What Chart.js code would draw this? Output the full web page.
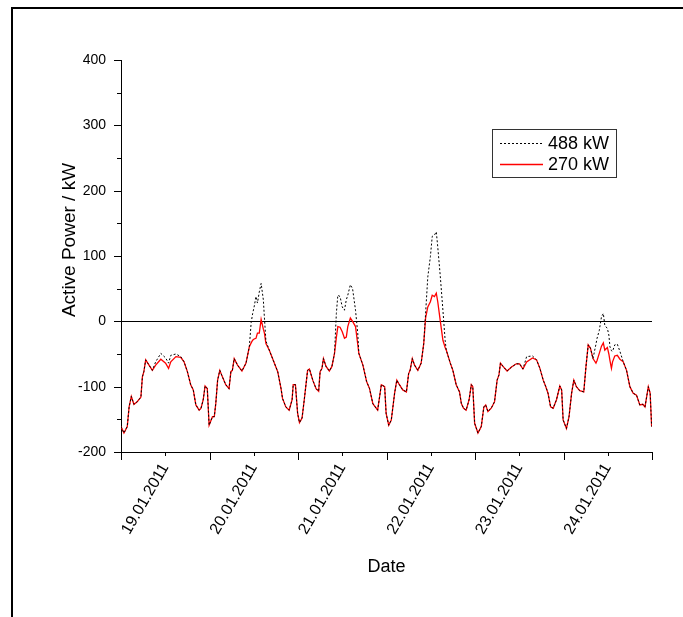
<!DOCTYPE html>
<html>
<head>
<meta charset="utf-8">
<script src="https://cdn.jsdelivr.net/npm/chart.js@4/dist/chart.umd.min.js"></script>
<style>
  html, body { margin: 0; padding: 0; background: #fff; }
  #wrap { position: relative; width: 683px; height: 617px; overflow: hidden; }
  #frame { position: absolute; left: 11px; top: 7px; width: 800px; height: 800px;
           border-top: 2px solid #000; border-left: 2px solid #000; }
  canvas { position: absolute; left: 0; top: 0; }
</style>
</head>
<body>
<div id="wrap">
  <div id="frame"></div>
  <canvas id="chart1" width="683" height="617"></canvas>
</div>
<script>
// time in hours from the left edge of the axis, 24 h per day
const hours = [
  0.0, 0.8, 1.7, 2.2, 2.8, 3.5, 4.4, 5.4, 5.8, 6.2, 6.7, 7.6, 8.5, 9.4, 10.8, 12.1, 12.9, 13.5, 14.9, 16.2,
  17.1, 18.0, 18.9, 19.6, 20.3, 21.2, 21.7, 22.3, 22.8, 23.4, 23.9, 24.8, 25.3, 25.7, 26.2, 26.8, 27.5, 28.4, 29.3, 29.8,
  30.2, 30.7, 31.6, 32.8, 33.9, 34.8, 35.3, 35.7, 36.1, 36.6, 37.0, 37.5, 38.0, 38.6, 38.9, 39.3, 40.2, 41.1, 42.5, 43.4,
  43.8, 44.7, 45.6, 46.4, 46.7, 47.3, 47.9, 48.4, 49.1, 49.7, 50.6, 51.1, 52.0, 52.9, 53.6, 54.0, 54.5, 54.9, 55.6, 56.5,
  57.2, 57.9, 58.4, 58.8, 59.4, 60.0, 60.6, 61.1, 61.5, 62.2, 62.8, 63.6, 64.2, 64.5, 65.6, 66.6, 67.4, 68.3, 69.2, 69.6,
  70.6, 71.5, 71.9, 72.6, 73.3, 74.2, 74.8, 75.5, 76.4, 77.4, 78.0, 78.4, 79.0, 79.6, 80.5, 81.4, 82.1, 82.6, 83.2, 83.9,
  84.4, 85.0, 85.5, 85.9, 86.6, 87.3, 87.9, 88.2, 89.3, 90.0, 90.9, 91.8, 92.3, 92.9, 93.6, 94.4, 95.0, 95.4, 95.9, 96.8,
  97.7, 98.4, 98.9, 99.5, 100.4, 101.3, 102.0, 102.5, 102.9, 103.6, 104.7, 105.9, 107.2, 108.1, 109.0, 110.0, 111.6, 112.7, 113.6, 114.5,
  115.2, 115.8, 116.5, 117.2, 118.1, 119.0, 119.5, 119.9, 120.8, 121.5, 122.2, 122.8, 123.5, 124.4, 125.5, 126.1, 126.7, 127.3, 128.0, 128.8,
  129.1, 129.7, 130.3, 130.8, 131.2, 131.9, 132.3, 132.6, 133.0, 133.3, 133.9, 134.6, 135.3, 136.2, 137.1, 138.0, 138.9, 139.8, 140.7, 141.5,
  142.1, 143.0, 143.5, 143.9
];

const kw270 = [
  -161, -171, -161, -131, -115, -127, -123, -116, -85, -77, -59, -67, -75, -67, -58, -64, -72, -62, -54, -55,
  -62, -77, -97, -105, -128, -136, -133, -120, -99, -103, -159, -146, -146, -126, -90, -75, -85, -97, -103, -77,
  -75, -57, -67, -76, -64, -39, -33, -29, -27, -26, -18, -18, 3, -12, -18, -34, -44, -57, -77, -103,
  -118, -131, -136, -120, -97, -97, -141, -155, -148, -120, -75, -73, -90, -103, -107, -77, -72, -57, -69, -76,
  -69, -49, -25, -8, -9, -16, -26, -24, -8, 5, 0, -8, -35, -49, -67, -92, -103, -126, -133, -136,
  -97, -100, -141, -159, -151, -110, -90, -97, -105, -108, -80, -75, -57, -67, -75, -64, -34, 5, 22, 30,
  40, 38, 43, 30, 0, -29, -40, -44, -64, -75, -97, -108, -126, -133, -136, -120, -97, -100, -156, -171,
  -161, -131, -128, -138, -133, -123, -90, -82, -64, -69, -76, -70, -65, -65, -73, -62, -56, -59, -72, -90,
  -100, -110, -131, -133, -120, -99, -105, -151, -164, -146, -110, -90, -100, -106, -108, -69, -36, -41, -57, -64,
  -60, -49, -38, -33, -44, -40, -50, -60, -72, -62, -53, -52, -58, -62, -75, -100, -110, -113, -128, -127,
  -131, -100, -110, -161
];

const kw488 = [
  -161, -171, -161, -131, -115, -127, -123, -116, -85, -77, -59, -67, -75, -62, -49, -56, -64, -52, -50, -54,
  -62, -77, -97, -105, -128, -136, -133, -120, -99, -103, -159, -146, -146, -126, -90, -75, -85, -97, -103, -77,
  -75, -57, -67, -76, -64, -39, -2, 12, 22, 38, 28, 45, 58, 33, 5, -30, -44, -57, -77, -103,
  -118, -131, -136, -120, -97, -97, -141, -155, -148, -120, -75, -73, -90, -103, -107, -77, -72, -57, -69, -76,
  -69, -49, 12, 40, 38, 22, 17, 33, 40, 56, 50, 17, -18, -49, -67, -92, -103, -126, -133, -136,
  -97, -100, -141, -159, -151, -110, -90, -97, -105, -108, -80, -75, -57, -67, -75, -64, -34, 12, 68, 99,
  130, 132, 137, 114, 68, 17, -29, -44, -64, -75, -97, -108, -126, -133, -136, -120, -97, -100, -156, -171,
  -161, -131, -128, -138, -133, -123, -90, -82, -64, -69, -76, -70, -65, -65, -73, -54, -53, -59, -72, -90,
  -100, -110, -131, -133, -120, -99, -105, -151, -164, -146, -110, -90, -100, -106, -108, -69, -36, -41, -57, -35,
  -26, -14, 7, 12, -6, -11, -21, -39, -45, -46, -36, -35, -46, -62, -75, -100, -110, -113, -128, -127,
  -131, -100, -110, -161
];

const xTickHours = [0, 12, 24, 36, 48, 60, 72, 84, 96, 108, 120, 132, 144];
const dayLabels = ['19.01.2011', '20.01.2011', '21.01.2011', '22.01.2011', '23.01.2011', '24.01.2011'];
const seriesNames = ['488 kW', '270 kW'];

const FONT = '"Liberation Sans", Arial, sans-serif';

const extras = {
  id: 'extras',
  afterDraw(chart) {
    const { ctx, chartArea: a, scales: { x, y } } = chart;
    ctx.save();
    // tick marks, outward
    ctx.strokeStyle = '#000';
    ctx.lineWidth = 1;
    ctx.beginPath();
    y.ticks.forEach(t => {
      const py = Math.round(y.getPixelForValue(t.value)) + 0.5;
      const len = t.value % 100 === 0 ? 7 : 4;
      ctx.moveTo(a.left - len, py);
      ctx.lineTo(a.left, py);
    });
    x.ticks.forEach(t => {
      const px = Math.round(x.getPixelForValue(t.value)) + 0.5;
      const len = t.value % 24 === 0 ? 8 : 4;
      ctx.moveTo(px, a.bottom);
      ctx.lineTo(px, a.bottom + len);
    });
    ctx.stroke();

    // y axis title
    ctx.save();
    ctx.translate(70, 240);
    ctx.rotate(-Math.PI / 2);
    ctx.fillStyle = '#000';
    ctx.font = '19px ' + FONT;
    ctx.textAlign = 'center';
    ctx.textBaseline = 'middle';
    ctx.fillText('Active Power / kW', 0, 0);
    ctx.restore();

    // legend box
    const bx = 492.5, by = 129.5, bw = 124, bh = 48;
    ctx.strokeStyle = '#333';
    ctx.lineWidth = 1;
    ctx.strokeRect(bx, by, bw, bh);
    ctx.font = '18px ' + FONT;
    ctx.textBaseline = 'middle';
    ctx.textAlign = 'left';
    chart.data.datasets.forEach((ds, i) => {
      const ly = 143 + i * 21;
      ctx.beginPath();
      ctx.strokeStyle = ds.borderColor;
      ctx.lineWidth = ds.borderWidth;
      ctx.setLineDash(ds.borderDash || []);
      ctx.moveTo(500, ly + 0.5);
      ctx.lineTo(543, ly + 0.5);
      ctx.stroke();
      ctx.setLineDash([]);
      ctx.fillStyle = '#000';
      ctx.fillText(ds.label, 548, ly + 1);
    });
    ctx.restore();
  }
};

new Chart(document.getElementById('chart1'), {
  type: 'line',
  data: {
    datasets: [{
      label: seriesNames[0],
      data: hours.map((h, i) => ({ x: h, y: kw488[i] })),
      borderColor: '#000',
      borderWidth: 1,
      borderDash: [2, 2],
      pointRadius: 0,
      tension: 0
    }, {
      label: seriesNames[1],
      data: hours.map((h, i) => ({ x: h, y: kw270[i] })),
      borderColor: '#ff0000',
      borderWidth: 1.3,
      pointRadius: 0,
      tension: 0
    }]
  },
  options: {
    responsive: false,
    animation: false,
    devicePixelRatio: 1,
    layout: { padding: { left: 0, top: 60, right: 31, bottom: 0 } },
    plugins: { legend: { display: false }, tooltip: { enabled: false } },
    scales: {
      x: {
        type: 'linear',
        min: 0,
        max: 144,
        afterBuildTicks: s => { s.ticks = xTickHours.map(v => ({ value: v })); },
        afterFit: s => { s.height = 165; },
        grid: { display: false, drawTicks: false },
        border: { display: true, color: '#000', width: 1 },
        ticks: {
          autoSkip: false,
          minRotation: 60,
          maxRotation: 60,
          padding: 8,
          color: '#000',
          font: { family: FONT, size: 16 },
          callback: v => (v % 24 === 12 ? dayLabels[(v - 12) / 24] : '')
        },
        title: {
          display: true,
          text: 'Date',
          color: '#000',
          font: { family: FONT, size: 18 },
          padding: { top: 0, bottom: 39 }
        }
      },
      y: {
        min: -200,
        max: 400,
        afterFit: s => { s.width = 121; },
        grid: {
          drawTicks: false,
          color: c => (c.tick && c.tick.value === 0 ? '#000' : 'rgba(0,0,0,0)'),
          lineWidth: 1
        },
        border: { display: true, color: '#000', width: 1 },
        ticks: {
          stepSize: 50,
          padding: 15,
          color: '#000',
          font: { family: FONT, size: 14 },
          callback: v => (v % 100 === 0 ? String(v) : '')
        }
      }
    }
  },
  plugins: [extras]
});
</script>
</body>
</html>
